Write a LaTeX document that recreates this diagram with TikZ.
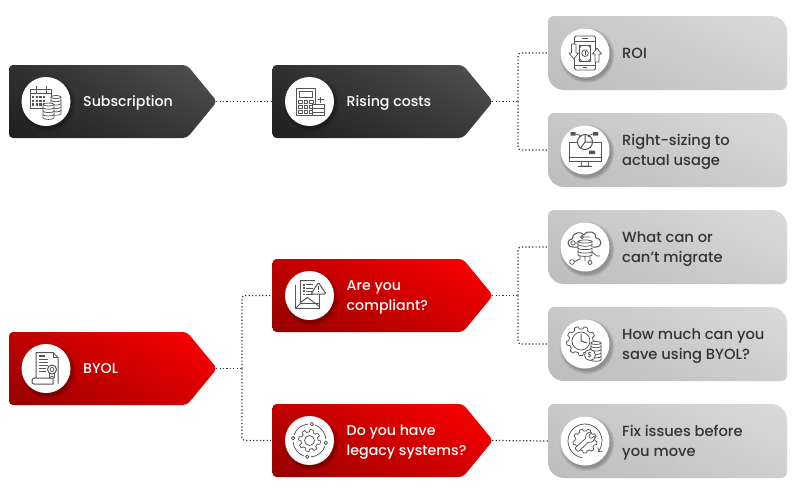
\documentclass[tikz,border=0pt]{standalone}
\usepackage{fontspec}
\setmainfont{Poppins}[UprightFont=* Medium]
\usetikzlibrary{calc,arrows.meta,shadings}
\definecolor{icg}{HTML}{555555}
\definecolor{conc}{HTML}{333333}
\definecolor{dA}{HTML}{1F1F1F}\definecolor{dB}{HTML}{303030}\definecolor{dC}{HTML}{3A3A3A}\definecolor{dD}{HTML}{525252}
\definecolor{rA}{HTML}{960000}\definecolor{rB}{HTML}{C00000}\definecolor{rC}{HTML}{D80000}\definecolor{rD}{HTML}{FF0000}
\definecolor{gA}{HTML}{BCBCBC}\definecolor{gB}{HTML}{C8C8C8}\definecolor{gC}{HTML}{CECECE}\definecolor{gD}{HTML}{DADADA}
\tikzset{x=1pt,y=-1pt,
 conn/.style={draw=conc,line width=1.2pt,dash pattern=on 1.2pt off 2.2pt,rounded corners=3pt},
 ic/.style={draw=icg,line width=.75pt,line join=round},
 icf/.style={ic,fill=white},
 icn/.style={circle,fill=white,inner sep=0pt,minimum size=49pt},
 wtext/.style={text=white,font=\fontsize{14.2}{20}\selectfont,align=left,anchor=west,inner sep=0pt,yshift=-1.5pt},
 dtext/.style={text=black!80,font=\fontsize{14.7}{20}\selectfont,align=left,anchor=west,inner sep=0pt,yshift=-1.8pt},
 holder/.style={inner sep=0pt,minimum height=73pt},
 darkfill/.style={lower left=dA,upper left=dB,lower right=dC,upper right=dD},
 redfill/.style={lower left=rA,upper left=rB,lower right=rC,upper right=rD},
 grayfill/.style={lower left=gA,upper left=gB,lower right=gC,upper right=gD},
}
% name, left x, centre y, width, fill style, circle name, text name, text
\newcommand{\pentbox}[8]{%
 \pgfmathsetmacro{\xa}{#2}\pgfmathsetmacro{\xb}{#2+#4+1}\pgfmathsetmacro{\xs}{#2+#4-29}%
 \node[holder,minimum width=#4pt] (#1) at ({#2+#4/2},#3) {};%
 \shade[#5,rounded corners=4pt] (\xa,{#3-36.5}) -- (\xs,{#3-36.5}) -- (\xb,#3) -- (\xs,{#3+36.5}) -- (\xa,{#3+36.5}) -- cycle;%
 \circshadow{{#2+37}}{#3}%
 \node[icn] (#6) at ({#2+37},#3) {};%
 \node[wtext] (#7) at ({#2+74},#3) {#8};%
}
\newcommand{\graybox}[5]{%
 \pgfmathsetmacro{\ya}{#2-37}\pgfmathsetmacro{\yb}{#2+37}%
 \node[holder,minimum width=239pt] (#1) at (667.5,#2) {};%
 \shade[grayfill] (554,\ya) -- (771,\ya) arc[start angle=90,end angle=0,x radius=16,y radius=-16] -- (787,{\yb-6}) arc[start angle=0,end angle=-90,x radius=6,y radius=-6] -- (564,\yb) arc[start angle=270,end angle=180,x radius=16,y radius=-16] -- (548,{\ya+6}) arc[start angle=180,end angle=90,x radius=6,y radius=-6] -- cycle;%
 \circshadow{585}{#2}%
 \node[icn] (#3) at (585,#2) {};%
 \node[dtext] (#4) at (622,#2) {#5};%
}
\newcommand{\circshadow}[2]{%
 \foreach \r in {24.5,25.5,26.5,27.5}{\fill[black,opacity=.07] ($(#1,#2)+(2,2.5)$) circle[radius=\r];}%
}
% gear outline: cx cy r1 r2 teeth
\newcommand{\gearline}[5]{%
 \draw[ic,fill=white] plot[variable=\t,samples=#5*8+1,domain=3:363] ({#1+(#3+(#4-#3)*(sin(#5*\t)>0?1:0))*cos(\t)},{#2+(#3+(#4-#3)*(sin(#5*\t)>0?1:0))*sin(\t)}) -- cycle;%
}
% circular arc about the local origin: radius, from, to (angles measured clockwise on the page)
\newcommand{\iarc}[4][]{\draw[ic,#1] (#3:#2) arc[start angle=#3,end angle=#4,radius=#2];}
% cx, top y, rx, count
\newcommand{\coins}[4]{%
 \foreach \k in {#4,...,1}{%
  \pgfmathsetmacro{\yy}{#2+(\k-1)*3.4}%
  \path[icf] (#1-#3,\yy) -- (#1-#3,\yy+3.2) arc[start angle=180,end angle=0,x radius=#3,y radius=1.5] -- (#1+#3,\yy) -- cycle;%
 }%
 \draw[icf] (#1,#2) ellipse[x radius=#3,y radius=1.5];%
}
\begin{document}
\begin{tikzpicture}
\useasboundingbox (0,0) rectangle (796,490);
\fill[white] (0,0) rectangle (796,490);

\pentbox{sub}{9}{101.5}{207}{darkfill}{subc}{subt}{Subscription}
\pentbox{ris}{272.5}{101.5}{219.5}{darkfill}{risc}{rist}{Rising costs}
\pentbox{com}{272.5}{295.5}{219.5}{redfill}{comc}{comt}{Are you\\compliant?}
\pentbox{byo}{9}{368.5}{207}{redfill}{byoc}{byot}{BYOL\vphantom{p}}
\pentbox{leg}{272.5}{440.5}{219.5}{redfill}{legc}{legt}{Do you have\\legacy systems?}
\graybox{roi}{53}{roic}{roit}{ROI\vphantom{p}}
\graybox{rig}{150}{rigc}{rigt}{Right-sizing to\\actual usage}
\graybox{wha}{247}{whac}{what}{What can or\\can’t migrate}
\graybox{how}{344}{howc}{howt}{How much can you\\save using BYOL?}
\graybox{fix}{441}{fixc}{fixt}{Fix issues before\\you move}

% connectors
\coordinate (e1) at (518,101.5);
\coordinate (e2) at (518,295.5);
\coordinate (e3) at (242,368.5);
\draw[conn] (sub.east) -- (ris.west);
\draw[conn] (ris.east) -- (e1);
\draw[conn] (e1) |- (roi.west);
\draw[conn] (e1) |- (rig.west);
\draw[conn] (com.east) -- (e2);
\draw[conn] (e2) |- (wha.west);
\draw[conn] (e2) |- (how.west);
\draw[conn] (byo.east) -- (e3);
\draw[conn] (e3) |- (com.west);
\draw[conn] (e3) |- (leg.west);
\draw[conn] (leg.east) -- (fix.west);

% icon: calendar + coins
\begin{scope}[shift={(subc.center)}]
 \draw[ic] (-16,-8) rectangle (5,7);
 \draw[ic] (-16,-12) rectangle (5,-8);
 \draw[ic] (-10,-16) -- (-10,-9) (0,-16) -- (0,-9);
 \foreach \i in {0,1,2,3}\foreach \j in {0,1,2}{\fill[icg] ({-14+\i*3.6},{-5.5+\j*3.6}) rectangle ++(2.4,2.4);}
 \coins{10}{-4.5}{5}{5}
 \coins{2.5}{3}{5.5}{4}
\end{scope}
% icon: calculator
\begin{scope}[shift={(risc.center)}]
 \draw[ic] (-13.5,-13) rectangle (5.5,14);
 \draw[ic] (-10.5,-10) rectangle (2.5,-4);
 \foreach \i in {0,1,2}\foreach \j in {0,1,2}{\draw[ic,line width=.6pt] ({-11+\i*5.6},{-1+\j*4.8}) rectangle ++(3.6,3);}
 \draw[ic,line width=1pt] (8,-2) -- (14,-2) (11,-5) -- (11,1);
 \foreach \j in {0,1,2}{\draw[icf] (3,{3+\j*3.7}) rectangle (15,{6.7+\j*3.7});}
\end{scope}
% icon: phone
\begin{scope}[shift={(roic.center)}]
 \draw[ic,rounded corners=1.5pt] (-10.5,-17) rectangle (10.5,17);
 \draw[ic] (-10.5,-12) -- (10.5,-12) (-10.5,12) -- (10.5,12) (-3,-14.5) -- (3,-14.5) (-2,14.5) -- (2,14.5);
 \draw[ic] (-5.5,-8) rectangle (5.5,8.5);
 \draw[ic] (0,0.2) circle[radius=3.3];
 \fill[icg] (-.5,-1.8) rectangle (.5,2.2);
 \foreach \s in {-1,1}{\draw[ic] ({\s*5.5},-5) -- ({\s*3},-8) ({\s*5.5},5.5) -- ({\s*3},8.5);}
 \draw[icf] (-13.5,-9) -- (-9,-9) -- (-9,0) -- (-6.5,0) -- (-11.2,6) -- (-16,0) -- (-13.5,0) -- cycle;
 \draw[icf] (10,9) -- (14,9) -- (14,1) -- (16.5,1) -- (12,-5) -- (7.5,1) -- (10,1) -- cycle;
\end{scope}
% icon: monitor + pie
\begin{scope}[shift={(rigc.center)}]
 \draw[ic,line width=1pt] (-16,-8) rectangle (16,11);
 \draw[ic] (-16,7) -- (16,7);
 \draw[ic] (-3,11) -- (-4,16) -- (4,16) -- (3,11) (-7,16.5) -- (7,16.5);
 \draw[icf,line width=1pt] (0,-8) circle[radius=7.5];
 \draw[ic,line width=1pt] (0,-8) -- (0,-15.5) (0,-8) -- (7.5,-8) (0,-8) -- (-4.5,-2);
 \fill[icg] (-14.5,-18) rectangle (-9.5,-14.5) (8,-18) rectangle (13,-14.5) (4,.5) rectangle (10,4);
 \draw[ic] (-9.5,-16) -- (-6,-15) -- (-4,-13) (8,-16) -- (5,-15) -- (3,-13);
\end{scope}
% icon: documents + warning
\begin{scope}[shift={(comc.center)}]
 \draw[ic,line width=1pt] (-14,-11) -- (-14,13) -- (10,13) -- (10,8);
 \draw[ic,line width=1pt] (-9,8) -- (-9,-15) -- (5,-15) (10,-2) -- (10,8) -- (-9,8);
 \foreach \j in {0,1,2,3}{\fill[icg] (-6.5,{-11.5+\j*3.2}) rectangle ++(1.6,1.6);\draw[ic] (-3.5,{-10.7+\j*3.2}) -- (3,{-10.7+\j*3.2});}
 \draw[ic,line width=1pt] (-9,7) -- (-2,2) -- (10,11);
 \draw[ic] (-14,13) -- (-9,8);
 \draw[ic,line width=1pt,fill=white,rounded corners=1.2pt] (9,-13) -- (16.5,-1.5) -- (1.5,-1.5) -- cycle;
 \draw[ic,line width=1.1pt] (9,-9.5) -- (9,-5.5) (9,-4.4) -- (9,-3.3);
\end{scope}
% icon: certificate
\begin{scope}[shift={(byoc.center)}]
 \draw[ic,line width=1pt] (-10,10) -- (-10,-16) -- (7,-16) -- (12,-11) -- (12,15);
 \draw[ic] (7,-16) -- (7,-11) -- (12,-11);
 \foreach \j/\w in {0/6,1/9,2/9,3/9,4/7,5/7}{\draw[icg,line width=1.1pt] (-7,{-12.5+\j*3.1}) -- (-7+\w,{-12.5+\j*3.1});}
 \draw[icf,line width=1pt] (-14,13) .. controls (-14,9.5) and (-12,9.5) .. (-10,9.5) -- (7,9.5) -- (7,15.5) -- (-12,15.5) .. controls (-14,15.5) and (-14,14) .. (-14,13);
 \draw[icf] (3.5,4) -- (3.5,9.5) -- (6,7.5) -- (8.5,9.5) -- (8.5,4) -- cycle;
 \draw[icf,line width=1pt] (6,1) circle[radius=4.5];
 \draw[ic] (6,1) circle[radius=2];
\end{scope}
% icon: cycle gear
\begin{scope}[shift={(legc.center)}]
 \gearline{0}{0}{8.5}{11}{8}
 \draw[ic] (0,0) circle[radius=5];
 \iarc{16.5}{-160}{-95}
 \iarc{16.5}{-70}{-5}
 \iarc{16.5}{20}{85}
 \iarc{16.5}{110}{175}
 \foreach \a in {-82,8,98,188}{\draw[icf] (\a:16.5) circle[radius=1.8];}
\end{scope}
% icon: cloud + database
\begin{scope}[shift={(whac.center)}]
 \draw[ic,line width=1pt] (-5,0) -- (-12,0) .. controls (-19,0) and (-18,-8) .. (-13,-8) .. controls (-12,-15) and (-4,-16) .. (-1,-12) .. controls (3,-18) and (12,-15) .. (11,-9) .. controls (17,-9) and (18,0) .. (11,0) -- (8,0);
 \draw[ic] (-12,-4) circle[radius=2.2] (-10,-4) -- (-4,-4);
 \draw[ic] (-3,-10) circle[radius=1.5] (-1.5,-10) -- (5,-10);
 \draw[ic] (-5,7) -- (-5,12) -- (-11,15) -- (-13,15) (5,8) -- (5,14) (7,5) -- (12,9) -- (15,9) (0,9) -- (0,14);
 \draw[icf] (-13,15) circle[radius=2.4];
 \draw[icf] (5,15.5) circle[radius=2];
 \coins{0}{-5.5}{7}{4}
\end{scope}
% icon: clock gear + coins
\begin{scope}[shift={(howc.center)}]
 \gearline{-4}{-3}{12}{14.5}{9}
 \draw[ic] (-4,-3) circle[radius=9];
 \draw[ic,line width=1pt] (-4,-10) -- (-4,-3) -- (2,-1);
 \coins{11}{-1}{5}{5}
 \draw[icf] (5,11) circle[radius=5.5];
 \node[text=icg,font=\fontsize{7}{7}\selectfont,inner sep=0pt] (howd) at (5,11) {\$};
\end{scope}
% icon: wrench gear
\begin{scope}[shift={(fixc.center)}]
 \gearline{0}{0}{10}{12}{9}
 \iarc[-{Straight Barb[length=3pt,width=6pt]}]{17}{100}{400}
 \draw[icf,rounded corners=.8pt] (-8.5,9.5) -- (-10,7) -- (1,-3) .. controls (0,-7) and (3.5,-9.5) .. (7,-8.5) -- (3.8,-5.5) -- (4.6,-3.3) -- (6.8,-2.6) -- (9.5,-5.5) .. controls (10.5,-1.5) and (7.5,2) .. (3.5,1) -- (-6.5,10.5) -- cycle;
\end{scope}
\end{tikzpicture}
\end{document}
